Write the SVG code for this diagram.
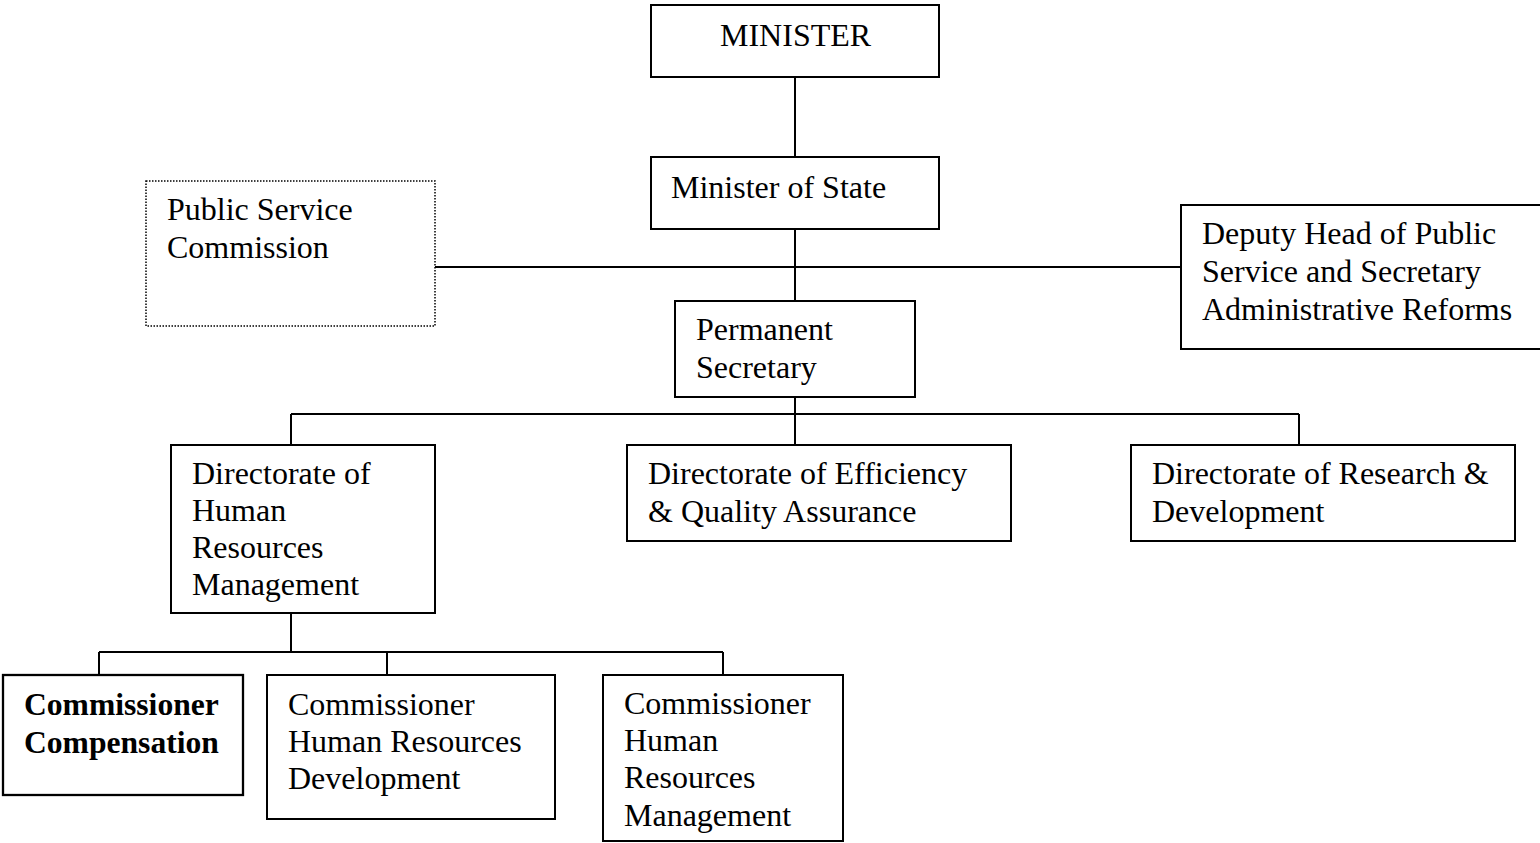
<svg xmlns="http://www.w3.org/2000/svg" width="1540" height="843" viewBox="0 0 1540 843">
<style>
.box{fill:#fff;stroke:#000;stroke-width:2}
.dot{fill:#fff;stroke:#000;stroke-width:1.5;stroke-dasharray:1.5 1.5}
.bold{stroke-width:2.3}
.t{font-family:"Liberation Serif","Times New Roman",serif;font-size:32px;fill:#000}
.b{font-weight:bold;font-size:31.6px}
.c{fill:none;stroke:#000;stroke-width:2}
</style>
<rect width="1540" height="843" fill="#fff"/>
<g id="connectors">
<path class="c" d="M795 77V157M795 229V301M435 267H1181M795 397V414M291 414H1299M291 414V445M795 414V445M1299 414V445M291 613V652M99 652H723M99 652V675M387 652V675M723 652V675"/>
</g>
<g id="minister"><rect class="box" x="651" y="5" width="288" height="72"/><text class="t" x="720" y="46">MINISTER</text></g>
<g id="minister-state"><rect class="box" x="651" y="157" width="288" height="72"/><text class="t" x="671" y="198">Minister of State</text></g>
<g id="psc"><rect class="dot" x="146" y="181" width="289" height="145"/><text class="t" x="167" y="220">Public Service</text><text class="t" x="167" y="258">Commission</text></g>
<g id="deputy-head"><rect class="box" x="1181" y="205" width="370" height="144"/><text class="t" x="1202" y="244">Deputy Head of Public</text><text class="t" x="1202" y="282">Service and Secretary</text><text class="t" x="1202" y="320">Administrative Reforms</text></g>
<g id="perm-sec"><rect class="box" x="675" y="301" width="240" height="96"/><text class="t" x="696" y="340">Permanent</text><text class="t" x="696" y="378">Secretary</text></g>
<g id="dir-hrm"><rect class="box" x="171" y="445" width="264" height="168"/><text class="t" x="192" y="484">Directorate of</text><text class="t" x="192" y="521">Human</text><text class="t" x="192" y="558">Resources</text><text class="t" x="192" y="595">Management</text></g>
<g id="dir-eqa"><rect class="box" x="627" y="445" width="384" height="96"/><text class="t" x="648" y="484">Directorate of Efficiency</text><text class="t" x="648" y="522">&amp; Quality Assurance</text></g>
<g id="dir-rd"><rect class="box" x="1131" y="445" width="384" height="96"/><text class="t" x="1152" y="484">Directorate of Research &amp;</text><text class="t" x="1152" y="522">Development</text></g>
<g id="comm-comp"><rect class="box bold" x="3" y="675" width="240" height="120"/><text class="t b" x="24" y="715">Commissioner</text><text class="t b" x="24" y="753">Compensation</text></g>
<g id="comm-hrd"><rect class="box" x="267" y="675" width="288" height="144"/><text class="t" x="288" y="715">Commissioner</text><text class="t" x="288" y="752">Human Resources</text><text class="t" x="288" y="789">Development</text></g>
<g id="comm-hrm"><rect class="box" x="603" y="675" width="240" height="166"/><text class="t" x="624" y="714">Commissioner</text><text class="t" x="624" y="751">Human</text><text class="t" x="624" y="788">Resources</text><text class="t" x="624" y="826">Management</text></g>
</svg>
